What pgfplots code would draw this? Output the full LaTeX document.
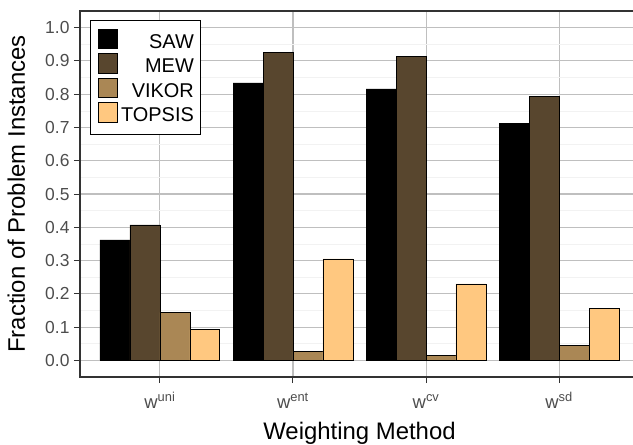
\documentclass[border=0pt]{standalone}
\usepackage{pgfplots}
\pgfplotsset{compat=1.18}
\usepackage{fontspec}
\setmainfont{Liberation Sans}
\definecolor{cSAW}{RGB}{0,0,0}
\definecolor{cMEW}{RGB}{88,70,46}
\definecolor{cVIK}{RGB}{170,135,85}
\definecolor{cTOP}{RGB}{255,200,128}
\definecolor{grid}{RGB}{235,235,235}
\definecolor{gridminor}{RGB}{242,242,242}
\definecolor{tickc}{RGB}{51,51,51}
\definecolor{labc}{RGB}{77,77,77}
\pgfplotstableread{
x SAW MEW VIKOR TOPSIS
1 0.362 0.407 0.144 0.092
2 0.834 0.925 0.027 0.305
3 0.816 0.913 0.015 0.230
4 0.713 0.793 0.046 0.156
}\data
\begin{document}
\begin{tikzpicture}
\begin{axis}[
  scale only axis, width=559bp, height=366bp,
  xmin=0.4, xmax=4.6, ymin=-0.05, ymax=1.05,
  xtick={1,2,3,4},
  xticklabels={w\textsuperscript{uni}, w\textsuperscript{ent}, w\textsuperscript{cv}, w\textsuperscript{sd}},
  ytick={0,0.1,0.2,0.3,0.4,0.5,0.6,0.7,0.8,0.9,1.0},
  minor ytick={0.05,0.15,0.25,0.35,0.45,0.55,0.65,0.75,0.85,0.95},
  yticklabel style={/pgf/number format/fixed, /pgf/number format/fixed zerofill, /pgf/number format/precision=1, xshift=-1bp},
  /pgf/number format/assume math mode=true,
  ticklabel style={font=\fontsize{17.5}{17.5}\selectfont, text=labc},
  xticklabel style={anchor=base, yshift=-25bp, font=\fontsize{18.5}{18.5}\selectfont},
  xtick pos=bottom, ytick pos=left,
  tick align=outside, major tick length=6bp, minor tick length=0bp,
  tick style={tickc, line width=1pt},
  axis line style={tickc, line width=1.1pt},
  grid=both,
  major grid style={grid, line width=1.1pt},
  minor grid style={gridminor, line width=0.6pt},
  xlabel={Weighting Method}, ylabel={Fraction of Problem Instances},
  label style={font=\fontsize{24}{24}\selectfont},
  xlabel style={at={(rel axis cs:0.5,0)}, anchor=base, yshift=-62bp},
  ylabel style={at={(rel axis cs:0,0.5)}, anchor=base, yshift=55bp},
  ybar, bar width=0.225,
  every axis plot/.append style={draw=black, line width=0.6pt},
  legend cell align=right,
  legend style={at={(0.018,0.975)}, anchor=north west, draw=black, line width=1.1pt,
    font=\fontsize{20}{20}\selectfont, inner xsep=7bp, inner ysep=8bp, row sep=0bp,
    nodes={inner sep=0bp, text height=14.5bp, text depth=5bp},
    /tikz/every odd column/.append style={column sep=4bp}},
  legend image code/.code={\draw[#1, draw=black, line width=0.5pt] (0bp,-5bp) rectangle (19bp,14.5bp);},
]
\addplot[fill=cSAW, bar shift=-0.3375] table[x=x, y=SAW] {\data};
\addplot[fill=cMEW, bar shift=-0.1125] table[x=x, y=MEW] {\data};
\addplot[fill=cVIK, bar shift=0.1125] table[x=x, y=VIKOR] {\data};
\addplot[fill=cTOP, bar shift=0.3375] table[x=x, y=TOPSIS] {\data};
\legend{SAW, MEW, VIKOR, TOPSIS}
\end{axis}
\pgfresetboundingbox
\path[use as bounding box] ([shift={(-80bp,-68bp)}]current axis.south west) rectangle ([shift={(-6bp,11bp)}]current axis.north east);
\end{tikzpicture}
\end{document}
